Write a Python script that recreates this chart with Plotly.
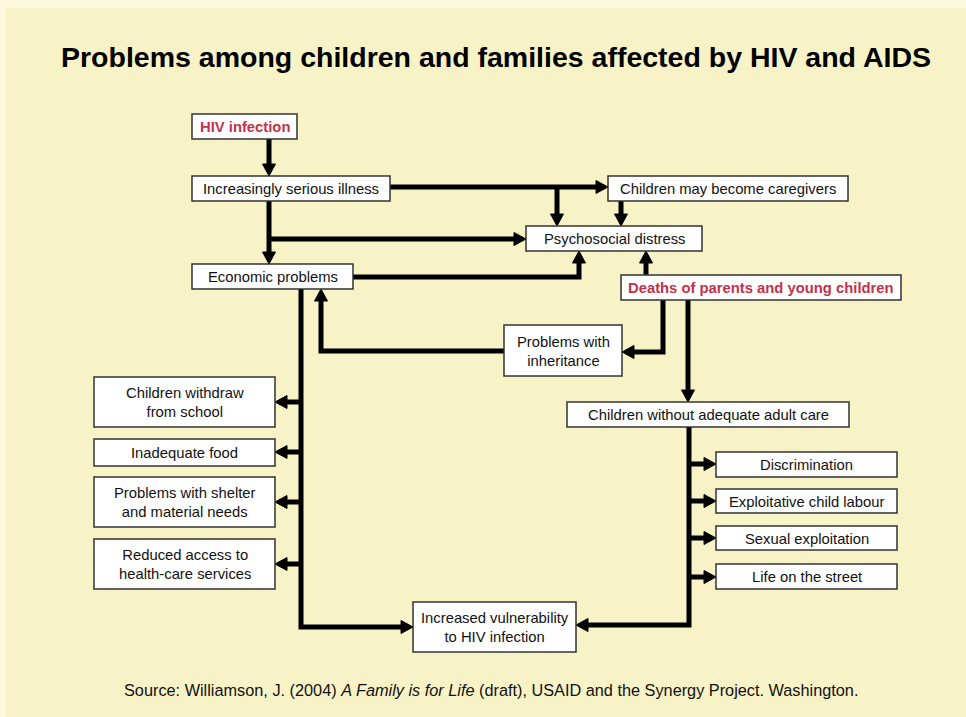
import plotly.graph_objects as go

# ---- content (text) ----
title_text = "Problems among children and families affected by HIV and AIDS"
source_text = ("Source: Williamson, J. (2004) <i>A Family is for Life</i> (draft), "
               "USAID and the Synergy Project. Washington.")

node_ids = ["hiv", "illness", "caregivers", "distress", "economic", "deaths",
            "inherit", "care", "school", "food", "shelter", "health",
            "discrim", "labour", "sexual", "street", "vuln"]
node_labels = ["HIV infection", "Increasingly serious illness",
               "Children may become caregivers", "Psychosocial distress",
               "Economic problems", "Deaths of parents and young children",
               "Problems with<br>inheritance", "Children without adequate adult care",
               "Children withdraw<br>from school", "Inadequate food",
               "Problems with shelter<br>and material needs",
               "Reduced access to<br>health-care services",
               "Discrimination", "Exploitative child labour", "Sexual exploitation",
               "Life on the street", "Increased vulnerability<br>to HIV infection"]
highlight_nodes = ["hiv", "deaths"]

# ---- layout geometry (page pixels, x0, x1, y0, y1) ----
box = {
    "hiv": (192, 297, 114, 139),
    "illness": (192, 390, 176, 201),
    "caregivers": (608, 848, 176, 201),
    "distress": (526, 702, 226, 251),
    "economic": (192, 353, 264, 289),
    "deaths": (621, 901, 275, 300),
    "inherit": (504, 622, 325, 376),
    "care": (567, 849, 402, 427),
    "school": (94, 275, 377, 427),
    "food": (94, 275, 439, 466),
    "shelter": (94, 275, 477, 527),
    "health": (94, 275, 539, 589),
    "discrim": (716, 897, 452, 477),
    "labour": (716, 897, 489, 513),
    "sexual": (716, 897, 526, 550),
    "street": (716, 897, 564, 589),
    "vuln": (413, 576, 602, 652),
}

# connectors: polylines, arrowhead at the last point
edges = [
    [(269, 139), (269, 176)],
    [(390, 187), (608, 187)],
    [(557, 187), (557, 226)],
    [(621, 201), (621, 226)],
    [(269, 201), (269, 264)],
    [(269, 239), (526, 239)],
    [(353, 277), (579, 277), (579, 251)],
    [(646, 275), (646, 251)],
    [(663, 300), (663, 352), (622, 352)],
    [(688, 300), (688, 402)],
    [(504, 351), (321, 351), (321, 289)],
    [(301, 289), (301, 627), (413, 627)],
    [(301, 402), (275, 402)],
    [(301, 452), (275, 452)],
    [(301, 502), (275, 502)],
    [(301, 564), (275, 564)],
    [(689, 427), (689, 625), (576, 625)],
    [(689, 464), (716, 464)],
    [(689, 501), (716, 501)],
    [(689, 538), (716, 538)],
    [(689, 577), (716, 577)],
]

WIN_W, WIN_H = 966, 717
OFF_X, OFF_Y = 6, 8
W, H = WIN_W - OFF_X, WIN_H - OFF_Y
BG = "#F8F3C6"
BG_LIGHT = "#FDF8DE"
RED = "#C4314B"
FONT = "Liberation Sans, Arial, sans-serif"
LINE_W = 5
HEAD_L, HEAD_W = 12, 13

shapes = []
annotations = []


def arrow(points):
    (xa, ya), (xb, yb) = points[-2], points[-1]
    dx, dy = xb - xa, yb - ya
    L = (dx * dx + dy * dy) ** 0.5
    ux, uy = dx / L, dy / L
    bx, by = xb - ux * HEAD_L, yb - uy * HEAD_L
    pts = list(points[:-1]) + [(bx + ux * 1, by + uy * 1)]
    path = "M " + " L ".join(f"{x},{y}" for x, y in pts)
    shapes.append(dict(type="path", xref="x", yref="y", path=path,
                       line=dict(color="black", width=LINE_W)))
    px, py = -uy, ux
    tri = (f"M {xb},{yb} L {bx + px * HEAD_W / 2},{by + py * HEAD_W / 2} "
           f"L {bx - px * HEAD_W / 2},{by - py * HEAD_W / 2} Z")
    shapes.append(dict(type="path", xref="x", yref="y", path=tri,
                       fillcolor="black", line=dict(color="black", width=1)))


for e in edges:
    arrow(e)

for nid, label in zip(node_ids, node_labels):
    x0, x1, y0, y1 = box[nid]
    shapes.append(dict(type="rect", xref="x", yref="y", x0=x0, x1=x1, y0=y0, y1=y1,
                       fillcolor="white", line=dict(color="#333333", width=1.5)))
    hl = nid in highlight_nodes
    annotations.append(dict(
        x=(x0 + x1) / 2, y=(y0 + y1) / 2 + 0.5, xref="x", yref="y",
        text=f"<b>{label}</b>" if hl else label,
        showarrow=False, xanchor="center", yanchor="middle",
        font=dict(family=FONT, size=14.8 if hl else 14.8,
                  color=RED if hl else "#111111"),
    ))

annotations.append(dict(x=496, y=57, xref="x", yref="y", text=f"<b>{title_text}</b>",
                        showarrow=False, xanchor="center", yanchor="middle",
                        font=dict(family=FONT, size=28.5, color="black")))
annotations.append(dict(x=491, y=690, xref="x", yref="y", text=source_text,
                        showarrow=False, xanchor="center", yanchor="middle",
                        font=dict(family=FONT, size=16.3, color="#111111")))

fig = go.Figure()
fig.update_layout(
    width=W, height=H,
    margin=dict(l=0, r=0, t=0, b=0),
    paper_bgcolor=BG, plot_bgcolor=BG,
    xaxis=dict(range=[OFF_X, WIN_W], visible=False, fixedrange=True),
    yaxis=dict(range=[WIN_H, OFF_Y], visible=False, fixedrange=True),
    shapes=shapes, annotations=annotations,
    showlegend=False,
)
post = (f"document.body.style.margin='{OFF_Y}px 0 0 {OFF_X}px';"
        f"document.body.style.background='{BG_LIGHT}';"
        "document.body.style.overflow='hidden';")
fig.write_html("out.html", config={"displayModeBar": False}, post_script=post)
